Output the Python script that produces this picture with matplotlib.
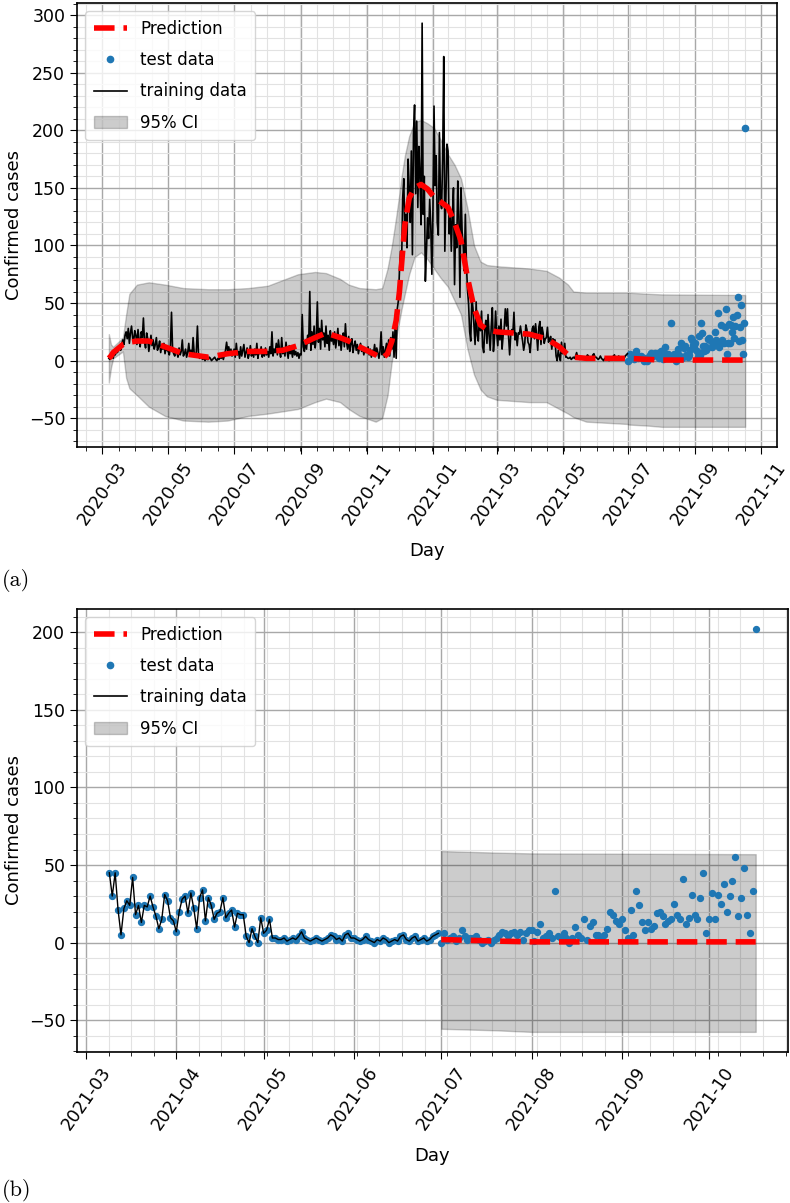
import numpy as np
import pandas as pd
import matplotlib
matplotlib.use('Agg')
import matplotlib.pyplot as plt
import matplotlib.dates as mdates
from matplotlib.ticker import AutoMinorLocator, MultipleLocator
from matplotlib.lines import Line2D
from matplotlib.patches import Patch

# daily confirmed cases used for training (starts 2020-03-07)
train_start = '2020-03-07'
c2020_03 = [2, 1, 3, 4, 2, 6, 5, 8, 7, 10, 12, 9, 15, 18, 14, 22, 25, 19, 28, 15, 24, 30, 20, 17, 26]
c2020_04 = [22, 14, 27, 18, 12, 25, 20, 37, 16, 11, 24, 19, 8, 15, 22, 13, 18, 10, 14, 20,
            9, 12, 17, 7, 13, 10, 15, 6, 11, 9]
c2020_05 = [8, 5, 12, 42, 10, 6, 4, 9, 7, 3, 11, 5, 8, 18, 4, 6, 10, 3, 7, 15,
            5, 9, 4, 20, 6, 3, 8, 30, 5, 2, 4]
c2020_06 = [2, 1, 3, 0, 2, 1, 1, 3, 2, 0, 1, 2, 3, 1, 0, 2, 1, 3, 2, 4,
            1, 5, 9, 16, 8, 12, 6, 10, 4, 7]
c2020_07 = [10, 3, 15, 5, 8, 2, 12, 4, 9, 14, 3, 7, 11, 2, 6, 13, 4, 8, 3, 10,
            5, 15, 2, 9, 6, 12, 3, 7, 4, 11, 5]
c2020_08 = [8, 3, 12, 6, 25, 4, 10, 7, 15, 5, 18, 9, 3, 20, 6, 11, 4, 16, 8, 2,
            13, 6, 9, 3, 12, 5, 8, 4, 7, 2, 6]
c2020_09 = [5, 40, 12, 8, 18, 10, 22, 15, 60, 9, 25, 14, 30, 11, 20, 51, 16, 28, 10, 35,
            18, 24, 12, 30, 15, 22, 9, 26, 17, 20]
c2020_10 = [14, 25, 11, 19, 28, 13, 22, 9, 18, 24, 12, 32, 16, 10, 21, 8, 15, 19, 7, 13,
            17, 9, 14, 6, 11, 15, 8, 12, 5, 10, 7]
c2020_11 = [8, 12, 5, 10, 3, 9, 6, 14, 4, 11, 7, 2, 8, 25, 5, 12, 3, 9, 15, 6,
            18, 4, 20, 10, 25, 3, 30, 2, 45, 52]
c2020_12 = [78, 95, 85, 141, 158, 110, 127, 98, 175, 150, 120, 182, 92, 197, 222, 145, 208, 133, 186, 160,
            118, 293, 127, 160, 69, 95, 124, 106, 140, 117, 75]
c2021_01 = [130, 221, 152, 178, 120, 109, 198, 140, 132, 175, 264, 95, 140, 188, 182, 110, 132, 95, 125, 150,
            66, 118, 98, 156, 125, 55, 150, 112, 100, 78, 127]
c2021_02 = [84, 61, 49, 25, 17, 55, 46, 30, 14, 51, 22, 17, 38, 26, 43, 12, 7, 28, 35, 15,
            40, 22, 9, 30, 46, 8, 20, 43]
c2021_03 = [24, 13, 30, 18, 36, 10, 22, 28, 45, 30, 45, 21, 5, 22, 27, 24, 42, 18, 24, 13,
            24, 23, 30, 23, 17, 9, 15, 31, 27, 16, 14]
c2021_04 = [7, 20, 28, 30, 19, 32, 22, 9, 29, 34, 14, 29, 24, 15, 19, 20, 29, 16, 19, 21,
            10, 19, 18, 18, 4, 0, 9, 4, 0, 16]
c2021_05 = [6, 8, 15, 3, 3, 2, 2, 3, 1, 2, 3, 2, 4, 7, 3, 2, 1, 2, 3, 2,
            1, 2, 3, 5, 4, 2, 3, 1, 5, 6, 3]
c2021_06 = [3, 2, 1, 2, 4, 2, 1, 0, 2, 1, 3, 2, 0, 1, 2, 1, 4, 5, 2, 1,
            3, 4, 1, 2, 3, 1, 2, 4, 5, 6]

# daily confirmed cases held out for testing (starts 2021-07-01)
test_start = '2021-07-01'
t2021_07 = [0, 6, 2, 3, 4, 1, 3, 8, 4, 2, 3, 3, 4, 2, 0, 1, 2, 0, 2, 3,
            5, 7, 6, 4, 6, 7, 5, 7, 2, 6, 8]
t2021_08 = [8, 1, 7, 12, 3, 4, 6, 3, 33, 4, 3, 6, 3, 0, 3, 10, 5, 3, 15, 2,
            11, 13, 5, 5, 3, 5, 9, 20, 18, 14, 12]
t2021_09 = [15, 8, 3, 21, 5, 33, 24, 13, 8, 13, 9, 11, 19, 20, 17, 12, 14, 15, 25, 18,
            15, 41, 12, 16, 31, 18, 15, 29, 45, 6]
t2021_10 = [15, 32, 15, 31, 25, 38, 20, 30, 40, 55, 17, 29, 48, 18, 6, 33, 202]

# model fit over the training period: mean and 95% interval
fit_days = ['2020-03-07', '2020-03-09', '2020-03-11', '2020-03-20', '2020-03-23', '2020-03-26',
            '2020-04-02', '2020-04-13', '2020-04-28', '2020-05-15', '2020-06-07', '2020-06-25',
            '2020-07-14', '2020-08-01', '2020-08-15', '2020-08-29', '2020-09-14', '2020-09-24',
            '2020-10-07', '2020-10-15', '2020-10-25', '2020-11-09', '2020-11-15', '2020-11-20',
            '2020-11-24', '2020-11-28', '2020-12-01', '2020-12-03', '2020-12-06', '2020-12-10',
            '2020-12-15', '2020-12-21', '2020-12-27', '2021-01-02', '2021-01-08', '2021-01-15',
            '2021-01-21', '2021-01-27', '2021-02-02', '2021-02-08', '2021-02-14', '2021-02-20',
            '2021-03-01', '2021-03-31', '2021-04-16', '2021-04-28', '2021-05-06', '2021-05-11',
            '2021-05-23', '2021-06-30']
fit_mean = [2, 4, 7, 14, 15, 16, 17, 17, 12, 6, 3, 6,
            8, 8, 9, 13, 20, 24, 20, 17, 12, 5, 2, 6,
            17, 35, 60, 84, 118, 141, 150, 153, 149, 142, 138, 133,
            120, 104, 72, 46, 31, 27, 25, 23, 19, 12, 5, 3,
            2, 2]
fit_upper = [23, 14, 12, 20, 40, 58, 66, 68, 66, 63, 62, 62,
             63, 65, 70, 75, 77, 76, 71, 66, 63, 62, 63, 80,
             100, 125, 145, 160, 178, 195, 207, 209, 206, 202, 192, 179,
             170, 158, 132, 100, 86, 83, 82, 80, 78, 72, 66, 60,
             59, 59]
fit_lower = [-19, -6, 2, 8, -15, -24, -30, -40, -48, -52, -53, -52,
             -48, -46, -44, -42, -36, -33, -36, -42, -48, -53, -50, -30,
             0, 20, 35, 45, 58, 75, 90, 94, 88, 80, 72, 64,
             52, 40, 10, -12, -25, -31, -34, -36, -36, -42, -46, -49,
             -53, -55]

# forecast over the test period
fc_days = ['2021-07-01', '2021-07-20', '2021-08-01', '2021-10-17']
fc_mean = [2, 1, 0.5, 0.5]
fc_upper = [59, 58, 57.5, 57]
fc_lower = [-55.5, -56.5, -57.5, -57.5]

zoom_start = '2021-03-09'

train_cases = (c2020_03 + c2020_04 + c2020_05 + c2020_06 + c2020_07 + c2020_08 + c2020_09 +
               c2020_10 + c2020_11 + c2020_12 + c2021_01 + c2021_02 + c2021_03 + c2021_04 +
               c2021_05 + c2021_06)
test_cases = t2021_07 + t2021_08 + t2021_09 + t2021_10
train = pd.Series(train_cases, index=pd.date_range(train_start, periods=len(train_cases), freq='D'))
test = pd.Series(test_cases, index=pd.date_range(test_start, periods=len(test_cases), freq='D'))
fit = pd.DataFrame({'mean': fit_mean, 'upper': fit_upper, 'lower': fit_lower}, index=pd.to_datetime(fit_days))
fc = pd.DataFrame({'mean': fc_mean, 'upper': fc_upper, 'lower': fc_lower}, index=pd.to_datetime(fc_days))

plt.rcParams['font.family'] = ['DejaVu Sans']
plt.rcParams['font.size'] = 12

fig = plt.figure(figsize=(7.9, 12.03), dpi=100)
ax1 = fig.add_axes([0.0975, 0.6284, 0.886, 0.3691])
ax2 = fig.add_axes([0.0975, 0.1255, 0.900, 0.3683])


def draw(ax, line, dots, pred, lw_train, dot_size):
    ax.fill_between(pred.index, pred['lower'], pred['upper'], color='k', alpha=0.2, zorder=1)
    ax.scatter(dots.index, dots.values, s=dot_size, color='tab:blue', zorder=2)
    ax.plot(line.index, line.values, color='k', lw=lw_train, zorder=3)
    ax.plot(pred.index, pred['mean'], color='r', ls='--', lw=4, zorder=4)

    handles = [Line2D([], [], color='r', ls='--', lw=4),
               Line2D([], [], ls='', marker='o', ms=4.5, color='tab:blue'),
               Line2D([], [], color='k', lw=1.2),
               Patch(facecolor='k', alpha=0.2, edgecolor='k')]
    ax.legend(handles, ['Prediction', 'test data', 'training data', '95% CI'],
              loc='upper left', fontsize=12, labelspacing=0.8, borderpad=0.5)

    ax.yaxis.set_major_locator(MultipleLocator(50))
    ax.yaxis.set_minor_locator(AutoMinorLocator())
    ax.xaxis.set_minor_locator(AutoMinorLocator(4))
    ax.xaxis.set_major_formatter(mdates.DateFormatter('%Y-%m'))
    ax.grid(which='major', color='#a8a8a8', lw=1.0)
    ax.grid(which='minor', color='#e2e2e2', lw=0.8)
    ax.set_axisbelow(True)
    ax.tick_params(which='major', length=5)
    ax.tick_params(which='minor', length=3)
    for lab in ax.get_xticklabels():
        lab.set_rotation(55)
        lab.set_fontsize(12.5)
    for lab in ax.get_yticklabels():
        lab.set_fontsize(12.5)
    for s in ax.spines.values():
        s.set_linewidth(1.2)
    ax.set_xlabel('Day', fontsize=13, labelpad=10)
    ax.set_ylabel('Confirmed cases', fontsize=13)


# (a) whole period
ax1.xaxis.set_major_locator(mdates.MonthLocator(bymonth=[1, 3, 5, 7, 9, 11]))
draw(ax1, train, test, pd.concat([fit, fc]), 1.2, 20)

# (b) last part of training data and the test period
ax2.xaxis.set_major_locator(mdates.MonthLocator())
recent = train[zoom_start:]
draw(ax2, recent, pd.concat([recent, test]), fc, 1.0, 18)

fig.text(0.003, 1 - 580 / 1203, '(a)', family='cmr10', fontsize=16, va='center')
fig.text(0.003, 1 - 1190 / 1203, '(b)', family='cmr10', fontsize=16, va='center')

fig.savefig('out.png', dpi=100)
